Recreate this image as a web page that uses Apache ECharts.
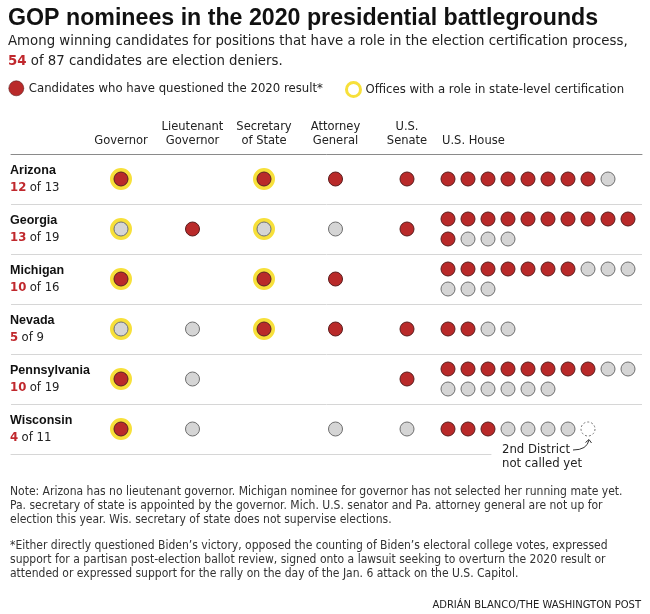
<!DOCTYPE html>
<html>
<head>
<meta charset="utf-8">
<script src="https://cdn.jsdelivr.net/npm/echarts/dist/echarts.min.js"></script>
<style>
  html, body { margin: 0; padding: 0; background: #fff; }
  #chart { width: 650px; height: 614px; }
</style>
</head>
<body>
<div id="chart"></div>
<script>
  // ---- data ----
  var states = ['Arizona', 'Georgia', 'Michigan', 'Nevada', 'Pennsylvania', 'Wisconsin'];
  var offices = ['Governor', 'Lieutenant\nGovernor', 'Secretary\nof State', 'Attorney\nGeneral', 'U.S.\nSenate'];
  // 1 = questioned 2020 result, 0 = did not, null = no race
  var officeStatus = [
    [1, null, 1, 1, 1],
    [0, 1, 0, 0, 1],
    [1, null, 1, 1, null],
    [0, 0, 1, 1, 1],
    [1, 0, null, null, 1],
    [1, 0, null, 0, 0]
  ];
  var certOffices = [0, 2]; // governor, secretary of state
  var houseDeniers = [8, 11, 7, 2, 8, 3];
  var houseOthers = [1, 3, 6, 2, 8, 4];
  var houseUncalled = [0, 0, 0, 0, 0, 1];
  var deniers = [12, 13, 10, 5, 10, 4];
  var totals = [13, 19, 16, 9, 19, 11];

  var RED = '#b92a2a', RED_EDGE = '#5a1c1c';
  var GRAY = '#d5d5d5', GRAY_EDGE = '#6e6e6e';
  var YELLOW = '#f7e03a';
  var TXT = '#222';

  // pick a narrow-ish font that is installed, fit sizes to the reference widths
  var ctx = document.createElement('canvas').getContext('2d');
  function installed(f) {
    var s = 'abcdefghijklmnopqrstuvwxyz0123456789';
    ctx.font = '40px monospace';
    var a = ctx.measureText(s).width;
    ctx.font = "40px '" + f + "', monospace";
    return ctx.measureText(s).width !== a;
  }
  var FONT = ['Liberation Sans Narrow', 'DejaVu Sans Condensed', 'Roboto'].filter(installed)[0] || 'sans-serif';
  var BOLD = 'Liberation Sans';
  function fit(text, w, weight, fam) {
    ctx.font = (weight || 'normal') + " 100px '" + fam + "'";
    return Math.round(1000 * w / ctx.measureText(text).width) / 10;
  }

  var titleSize = fit('GOP nominees in the 2020 presidential battlegrounds', 590, 'bold', BOLD);
  var subLine = 'Among winning candidates for positions that have a role in the election certification process,';
  var subSize = fit(subLine, 620, 'normal', FONT);
  var legText1 = 'Candidates who have questioned the 2020 result*';
  var legText2 = 'Offices with a role in state-level certification';
  var legSize = fit(legText1, 295, 'normal', FONT);
  var headSize = fit('Lieutenant', 62, 'normal', FONT);
  var nameSize = fit('Pennsylvania', 80, 'bold', BOLD);
  var countSize = 13;
  var noteLines1 = [
    'Note: Arizona has no lieutenant governor. Michigan nominee for governor has not selected her running mate yet.',
    'Pa. secretary of state is appointed by the governor. Mich. U.S. senator and Pa. attorney general are not up for',
    'election this year. Wis. secretary of state does not supervise elections.'
  ];
  var noteLines2 = [
    '*Either directly questioned Biden\u2019s victory, opposed the counting of Biden\u2019s electoral college votes, expressed',
    'support for a partisan post-election ballot review, signed onto a lawsuit seeking to overturn the 2020 result or',
    'attended or expressed support for the rally on the day of the Jan. 6 attack on the U.S. Capitol.'
  ];
  var noteSize = fit(noteLines1[0], 612, 'normal', FONT);
  var credit = 'ADRI\u00c1N BLANCO/THE WASHINGTON POST';
  var creditSize = fit(credit, 208, 'normal', FONT);
  var annSize = fit('2nd District', 68, 'normal', FONT);

  // ---- build marks ----
  var redOffice = [], grayOffice = [], rings = [];
  officeStatus.forEach(function (row, i) {
    row.forEach(function (v, j) {
      if (v === null) return;
      (v ? redOffice : grayOffice).push([j, i]);
      if (certOffices.indexOf(j) >= 0) rings.push([j, i]);
    });
  });

  var redHouse = [], grayHouse = [], uncalledHouse = [];
  states.forEach(function (s, i) {
    var n = houseDeniers[i] + houseOthers[i] + houseUncalled[i];
    var lines = Math.ceil(n / 10);
    for (var k = 0; k < n; k++) {
      var line = Math.floor(k / 10);
      var pt = [k % 10, i + 0.5 + (line - (lines - 1) / 2) * 0.4];
      if (k < houseDeniers[i]) redHouse.push(pt);
      else if (k < houseDeniers[i] + houseOthers[i]) grayHouse.push(pt);
      else uncalledHouse.push(pt);
    }
  });

  var redStyle = { color: RED, borderColor: RED_EDGE, borderWidth: 1, opacity: 1 };
  var grayStyle = { color: GRAY, borderColor: GRAY_EDGE, borderWidth: 1, opacity: 1 };
  var DOT = 14;

  var chart = echarts.init(document.getElementById('chart'));
  var option = {
    animation: false,
    backgroundColor: '#fff',
    textStyle: { fontFamily: FONT },
    title: [
      {
        text: 'GOP nominees in the 2020 presidential battlegrounds',
        left: 8, top: 7, padding: 0,
        textStyle: { fontFamily: BOLD, fontWeight: 'bold', fontSize: titleSize, color: '#111', lineHeight: 24 }
      },
      {
        text: subLine + '\n{r|54} of 87 candidates are election deniers.',
        left: 8, top: 31, padding: 0,
        textStyle: {
          fontFamily: FONT, fontWeight: 'normal', fontSize: subSize, color: TXT, lineHeight: 20,
          rich: { r: { fontFamily: FONT, fontWeight: 'bold', fontSize: subSize, color: '#c0282d', lineHeight: 20 } }
        }
      },
      {
        text: 'U.S. House',
        left: 442, top: 134, padding: 0,
        textStyle: { fontFamily: FONT, fontWeight: 'normal', fontSize: headSize, color: TXT, lineHeight: 14 }
      },
      {
        text: noteLines1.join('\n'),
        left: 10, top: 485, padding: 0,
        textStyle: { fontFamily: FONT, fontWeight: 'normal', fontSize: noteSize, color: '#333', lineHeight: 14 }
      },
      {
        text: noteLines2.join('\n'),
        left: 10, top: 539, padding: 0,
        textStyle: { fontFamily: FONT, fontWeight: 'normal', fontSize: noteSize, color: '#333', lineHeight: 14 }
      },
      {
        text: credit,
        right: 9, top: 598, padding: 0,
        textStyle: { fontFamily: FONT, fontWeight: 'normal', fontSize: creditSize, color: '#222', lineHeight: 14 }
      }
    ],
    legend: [
      {
        left: 8.5, top: 80.5, padding: 0, itemWidth: 15, itemHeight: 15, selectedMode: false,
        textStyle: { fontSize: legSize, color: TXT, fontFamily: FONT },
        data: [{ name: legText1, icon: 'circle', itemStyle: { color: RED, borderColor: RED_EDGE, borderWidth: 0.6 } }]
      },
      {
        left: 345, top: 81, padding: 0, itemWidth: 14, itemHeight: 14, selectedMode: false,
        textStyle: { fontSize: legSize, color: TXT, fontFamily: FONT },
        data: [{ name: legText2, icon: 'circle',
                 itemStyle: { color: '#fff', borderColor: YELLOW, borderWidth: 3 } }]
      }
    ],
    grid: [
      { left: 85.25, width: 357.5, top: 154, height: 300 }, // offices
      { left: 438, width: 200, top: 154, height: 300 },     // house
      { left: 11, right: 8, top: 154, height: 250 },        // row rules
      { left: 11, width: 480, top: 404, height: 50 }        // last short rule
    ],
    xAxis: [
      {
        gridIndex: 0, type: 'category', data: offices, position: 'top',
        axisLine: { show: false }, axisTick: { show: false }, splitLine: { show: false },
        axisLabel: { interval: 0, margin: 6, fontSize: headSize, lineHeight: 14, color: TXT }
      },
      { gridIndex: 1, type: 'value', min: -0.5, max: 9.5, show: false },
      {
        gridIndex: 2, type: 'value', min: 0, max: 1, position: 'top', z: 5,
        axisLine: { show: true, lineStyle: { color: '#8a8a8a', width: 1 } },
        axisLabel: { show: false }, axisTick: { show: false }, splitLine: { show: false }
      },
      {
        gridIndex: 3, type: 'value', min: 0, max: 1, position: 'bottom',
        axisLine: { show: true, lineStyle: { color: '#d6d6d6', width: 1 } },
        axisLabel: { show: false }, axisTick: { show: false }, splitLine: { show: false }
      }
    ],
    yAxis: [
      {
        gridIndex: 0, type: 'category', data: states, inverse: true,
        axisLine: { show: false }, axisTick: { show: false }, splitLine: { show: false },
        axisLabel: {
          align: 'left', margin: 75.25,
          formatter: function (v, i) {
            return '{n|' + v + '}\n{r|' + deniers[i] + '} {g|of ' + totals[i] + '}';
          },
          rich: {
            n: { fontFamily: BOLD, fontWeight: 'bold', fontSize: nameSize, color: '#111', lineHeight: 17 },
            r: { fontFamily: FONT, fontWeight: 'bold', fontSize: countSize, color: '#c0282d', lineHeight: 17 },
            g: { fontFamily: FONT, fontSize: countSize, color: TXT, lineHeight: 17 }
          }
        }
      },
      { gridIndex: 1, type: 'value', min: 0, max: 6, inverse: true, show: false },
      {
        gridIndex: 2, type: 'category', data: states.slice(0, 5), inverse: true,
        axisLine: { show: false }, axisTick: { show: false }, axisLabel: { show: false },
        splitLine: { show: true, interval: 0, lineStyle: { color: '#d6d6d6', width: 1 } }
      },
      { gridIndex: 3, type: 'value', min: 0, max: 1, show: false }
    ],
    series: [
      {
        name: legText2, type: 'scatter', xAxisIndex: 0, yAxisIndex: 0,
        symbol: 'circle', symbolSize: 18, data: rings, silent: true,
        itemStyle: { color: 'rgba(255,255,255,0)', borderColor: YELLOW, borderWidth: 4, opacity: 1 }
      },
      {
        name: legText1, type: 'scatter', xAxisIndex: 0, yAxisIndex: 0,
        symbol: 'circle', symbolSize: DOT, data: redOffice, itemStyle: redStyle
      },
      {
        name: 'office-other', type: 'scatter', xAxisIndex: 0, yAxisIndex: 0,
        symbol: 'circle', symbolSize: DOT, data: grayOffice, itemStyle: grayStyle
      },
      {
        name: legText1, type: 'scatter', xAxisIndex: 1, yAxisIndex: 1,
        symbol: 'circle', symbolSize: DOT, data: redHouse, itemStyle: redStyle
      },
      {
        name: 'house-other', type: 'scatter', xAxisIndex: 1, yAxisIndex: 1,
        symbol: 'circle', symbolSize: DOT, data: grayHouse, itemStyle: grayStyle
      },
      {
        name: 'house-uncalled', type: 'scatter', xAxisIndex: 1, yAxisIndex: 1,
        symbol: 'circle', symbolSize: DOT, data: uncalledHouse,
        itemStyle: { color: 'rgba(255,255,255,0)', borderColor: '#777', borderWidth: 1, borderType: [2, 2], opacity: 1 }
      }
    ]
  };
  chart.setOption(option);

  // annotation for the uncalled district, placed from the dot's pixel position
  var p = chart.convertToPixel({ seriesIndex: 5 }, uncalledHouse[0]);
  chart.setOption({
    graphic: [
      {
        type: 'text', left: p[0] - 86, top: p[1] + 14,
        style: { text: '2nd District\nnot called yet', fontFamily: FONT, fontSize: annSize, lineHeight: 14, fill: TXT }
      },
      {
        type: 'bezierCurve',
        shape: { x1: p[0] - 15, y1: p[1] + 21, x2: p[0] + 1, y2: p[1] + 11, cpx1: p[0] - 1, cpy1: p[1] + 21 },
        style: { stroke: '#333', lineWidth: 1, fill: null }
      },
      {
        type: 'polyline',
        shape: { points: [[p[0] - 2.5, p[1] + 13.5], [p[0] + 1, p[1] + 10.5], [p[0] + 3.5, p[1] + 14]] },
        style: { stroke: '#333', lineWidth: 1, fill: null }
      }
    ]
  });
</script>
</body>
</html>
